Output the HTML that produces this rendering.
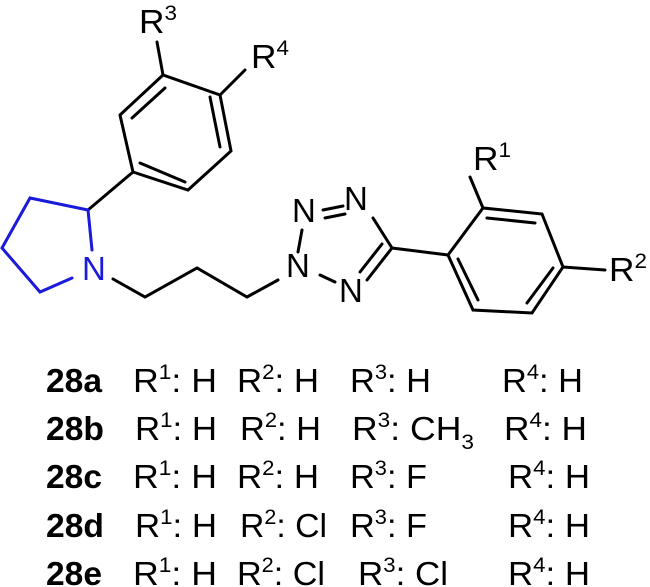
<!DOCTYPE html>
<html><head><meta charset="utf-8"><style>
html,body{margin:0;padding:0;background:#fff;}
svg{display:block;}
text{font-family:"Liberation Sans",Arial,sans-serif;font-size:33px;fill:#000;}
.b{font-weight:bold;}
</style></head><body>
<svg width="650" height="587" viewBox="0 0 650 587" xmlns="http://www.w3.org/2000/svg">
<g stroke="#000" stroke-width="3" fill="none" stroke-linecap="round">
<polyline points="120,115 163,75 220,95 231,151 188,190 133,172 120,115"/>
<line x1="132" y1="118" x2="165" y2="88"/>
<line x1="210" y1="97" x2="220" y2="147"/>
<line x1="140" y1="163" x2="185" y2="182"/>
<line x1="163" y1="75" x2="157" y2="42"/>
<line x1="220" y1="95" x2="245" y2="70"/>
<line x1="133" y1="172" x2="88" y2="210"/>
<polyline points="113,279 145,297 197,268 247,297 278,280"/>
<line x1="302" y1="230" x2="298" y2="252"/>
<line x1="323" y1="210" x2="343" y2="206"/>
<line x1="325" y1="218" x2="345" y2="214"/>
<line x1="373" y1="218" x2="392" y2="248"/>
<line x1="392" y1="248" x2="367" y2="280"/>
<line x1="382" y1="244" x2="360" y2="272"/>
<line x1="320" y1="275" x2="335" y2="282"/>
<line x1="392" y1="248" x2="448" y2="255"/>
<polyline points="448,255 483,208 542,214 563,267 532,313 473,310 448,255"/>
<line x1="487" y1="218" x2="535" y2="223"/>
<line x1="553" y1="268" x2="527" y2="303"/>
<line x1="478" y1="300" x2="458" y2="259"/>
<line x1="483" y1="208" x2="470" y2="177"/>
<line x1="563" y1="267" x2="605" y2="270"/>
</g>
<g stroke="#1a1adb" stroke-width="3" fill="none" stroke-linecap="round">
<polyline points="92,250 88,210 30,198 2,248 40,292 72,278"/>
</g>
<text x="139" y="33" textLength="38" lengthAdjust="spacingAndGlyphs">R<tspan dy="-13" font-size="21">3</tspan></text>
<text x="251" y="68" textLength="38" lengthAdjust="spacingAndGlyphs">R<tspan dy="-13" font-size="21">4</tspan></text>
<text x="473" y="170" textLength="38" lengthAdjust="spacingAndGlyphs">R<tspan dy="-13" font-size="21">1</tspan></text>
<text x="609" y="281" textLength="38" lengthAdjust="spacingAndGlyphs">R<tspan dy="-13" font-size="21">2</tspan></text>
<text x="82" y="280" style="fill:#1a1adb" font-size="31">N</text>
<text x="286" y="277" font-size="31">N</text>
<text x="292" y="222" font-size="31">N</text>
<text x="344" y="210" font-size="31">N</text>
<text x="339" y="302" font-size="31">N</text>
<g>
<text class="b" x="46" y="392" textLength="56" lengthAdjust="spacingAndGlyphs">28a</text>
<text x="133" y="392" textLength="84" lengthAdjust="spacingAndGlyphs">R<tspan dy="-13" font-size="21">1</tspan><tspan dy="13">: H</tspan></text>
<text x="237" y="392" textLength="82" lengthAdjust="spacingAndGlyphs">R<tspan dy="-13" font-size="21">2</tspan><tspan dy="13">: H</tspan></text>
<text x="350" y="392" textLength="81" lengthAdjust="spacingAndGlyphs">R<tspan dy="-13" font-size="21">3</tspan><tspan dy="13">: H</tspan></text>
<text x="502" y="392" textLength="81" lengthAdjust="spacingAndGlyphs">R<tspan dy="-13" font-size="21">4</tspan><tspan dy="13">: H</tspan></text>

<text class="b" x="46" y="440" textLength="58" lengthAdjust="spacingAndGlyphs">28b</text>
<text x="135" y="440" textLength="82" lengthAdjust="spacingAndGlyphs">R<tspan dy="-13" font-size="21">1</tspan><tspan dy="13">: H</tspan></text>
<text x="240" y="440" textLength="81" lengthAdjust="spacingAndGlyphs">R<tspan dy="-13" font-size="21">2</tspan><tspan dy="13">: H</tspan></text>
<text x="352" y="440" textLength="122" lengthAdjust="spacingAndGlyphs">R<tspan dy="-13" font-size="21">3</tspan><tspan dy="13">: CH</tspan><tspan dy="9" font-size="21">3</tspan></text>
<text x="504" y="440" textLength="83" lengthAdjust="spacingAndGlyphs">R<tspan dy="-13" font-size="21">4</tspan><tspan dy="13">: H</tspan></text>

<text class="b" x="46" y="488" textLength="56" lengthAdjust="spacingAndGlyphs">28c</text>
<text x="133" y="488" textLength="84" lengthAdjust="spacingAndGlyphs">R<tspan dy="-13" font-size="21">1</tspan><tspan dy="13">: H</tspan></text>
<text x="237" y="488" textLength="82" lengthAdjust="spacingAndGlyphs">R<tspan dy="-13" font-size="21">2</tspan><tspan dy="13">: H</tspan></text>
<text x="350" y="488" textLength="77" lengthAdjust="spacingAndGlyphs">R<tspan dy="-13" font-size="21">3</tspan><tspan dy="13">: F</tspan></text>
<text x="508" y="488" textLength="82" lengthAdjust="spacingAndGlyphs">R<tspan dy="-13" font-size="21">4</tspan><tspan dy="13">: H</tspan></text>

<text class="b" x="46" y="537" textLength="58" lengthAdjust="spacingAndGlyphs">28d</text>
<text x="135" y="537" textLength="82" lengthAdjust="spacingAndGlyphs">R<tspan dy="-13" font-size="21">1</tspan><tspan dy="13">: H</tspan></text>
<text x="240" y="537" textLength="87" lengthAdjust="spacingAndGlyphs">R<tspan dy="-13" font-size="21">2</tspan><tspan dy="13">: Cl</tspan></text>
<text x="350" y="537" textLength="77" lengthAdjust="spacingAndGlyphs">R<tspan dy="-13" font-size="21">3</tspan><tspan dy="13">: F</tspan></text>
<text x="508" y="537" textLength="82" lengthAdjust="spacingAndGlyphs">R<tspan dy="-13" font-size="21">4</tspan><tspan dy="13">: H</tspan></text>

<text class="b" x="46" y="585" textLength="56" lengthAdjust="spacingAndGlyphs">28e</text>
<text x="133" y="585" textLength="84" lengthAdjust="spacingAndGlyphs">R<tspan dy="-13" font-size="21">1</tspan><tspan dy="13">: H</tspan></text>
<text x="237" y="585" textLength="88" lengthAdjust="spacingAndGlyphs">R<tspan dy="-13" font-size="21">2</tspan><tspan dy="13">: Cl</tspan></text>
<text x="358" y="585" textLength="90" lengthAdjust="spacingAndGlyphs">R<tspan dy="-13" font-size="21">3</tspan><tspan dy="13">: Cl</tspan></text>
<text x="508" y="585" textLength="82" lengthAdjust="spacingAndGlyphs">R<tspan dy="-13" font-size="21">4</tspan><tspan dy="13">: H</tspan></text>
</g>
</svg>
</body></html>
